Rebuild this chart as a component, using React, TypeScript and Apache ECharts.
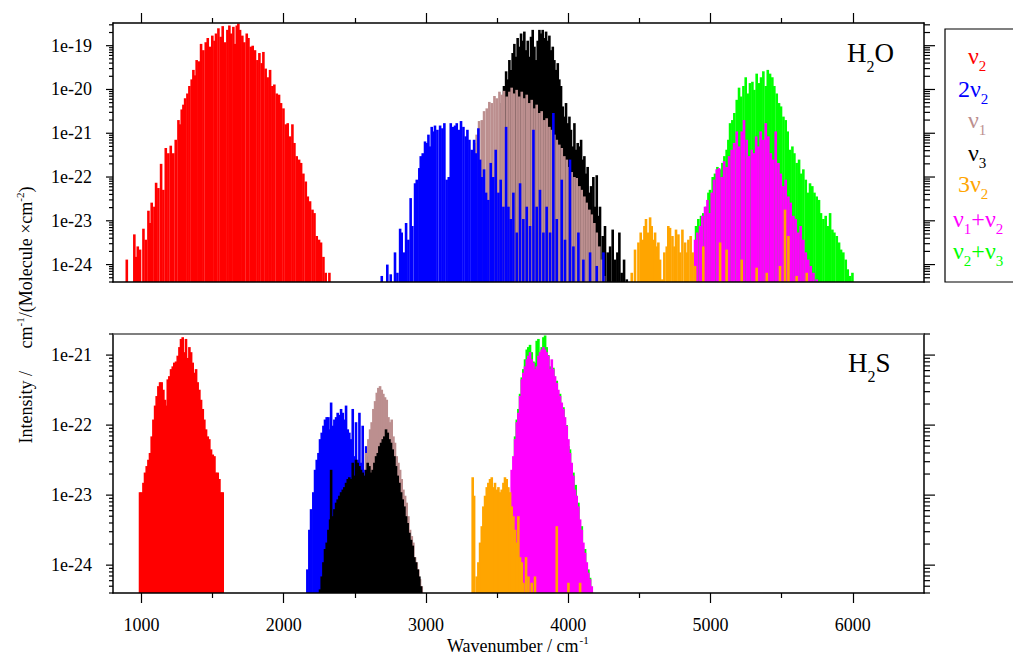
import { useEffect, useRef } from 'react';
import * as echarts from 'echarts';

type Stick = [number, number];

// Stick spectra: [wavenumber / cm-1, intensity / cm-1/(molecule cm-2)]

// ---------- H2O ----------
const h2oNu2: Stick[] = [
  [897, 1.3e-24], [950, 4.9e-24], [960, 1.5e-24], [974, 2.6e-24], [990, 2.2e-24], [1014, 6.6e-24], [1030, 3.7e-24],
  [1049, 1.7e-23], [1060, 8.9e-24], [1072, 2.6e-23], [1091, 2.1e-23], [1103, 7.4e-23], [1119, 5.6e-23], [1138, 2.0e-22],
  [1154, 5.1e-23], [1171, 4.6e-22], [1189, 3.5e-22], [1206, 5.2e-22], [1224, 3.5e-22], [1241, 7.1e-22], [1260, 2.0e-21],
  [1271, 1.6e-21], [1283, 3.5e-21], [1295, 4.5e-21], [1307, 6.3e-21], [1323, 8.1e-21], [1337, 1.2e-20], [1353, 1.7e-20],
  [1365, 2.8e-20], [1377, 2.1e-20], [1388, 4.7e-20], [1405, 4.4e-20], [1419, 1.1e-19], [1435, 7.9e-20], [1452, 1.2e-19],
  [1466, 1.5e-19], [1482, 9.5e-20], [1498, 1.7e-19], [1513, 1.3e-19], [1524, 1.9e-19], [1541, 2.5e-19], [1557, 1.6e-19],
  [1571, 2.8e-19], [1588, 1.2e-19], [1604, 2.3e-19], [1618, 2.9e-19], [1630, 1.9e-19], [1646, 2.7e-19], [1658, 1.1e-19],
  [1670, 2.9e-19], [1681, 3.2e-19], [1693, 2.3e-19], [1709, 1.7e-19], [1723, 1.2e-19], [1740, 1.9e-19], [1752, 1.5e-19],
  [1768, 9.5e-20], [1782, 1.0e-19], [1798, 7.9e-20], [1815, 4.7e-20], [1829, 6.8e-20], [1845, 4.0e-20], [1857, 7.2e-20],
  [1873, 3.0e-20], [1887, 1.9e-20], [1904, 2.8e-20], [1920, 1.2e-20], [1934, 1.3e-20], [1951, 8.1e-21], [1967, 7.6e-21],
  [1981, 4.9e-21], [1998, 3.7e-21], [2014, 1.6e-21], [2028, 1.7e-21], [2045, 8.5e-22], [2061, 1.6e-21], [2075, 6.0e-22],
  [2091, 3.0e-22], [2108, 2.5e-22], [2122, 2.1e-22], [2138, 1.2e-22], [2155, 7.9e-23], [2169, 3.6e-23], [2185, 2.8e-23],
  [2202, 1.8e-23], [2216, 1.5e-23], [2232, 4.5e-24], [2248, 3.7e-24], [2262, 3.2e-24], [2279, 1.5e-24], [2295, 6.5e-25],
  [2321, 6.5e-25],
];

const h2oTwoNu2: Stick[] = [
  [2689, 5.5e-25], [2728, 1.0e-24], [2752, 6.0e-25], [2782, 1.9e-24], [2799, 6.5e-25], [2818, 6.6e-24], [2829, 5.4e-24],
  [2846, 1.9e-24], [2860, 8.9e-24], [2876, 3.7e-24], [2892, 3.3e-23], [2904, 7.6e-24], [2923, 7.2e-23], [2935, 8.7e-23],
  [2953, 1.6e-22], [2963, 3.0e-22], [2977, 3.5e-22], [2993, 6.5e-22], [3005, 6.0e-22], [3017, 9.3e-22], [3028, 5.0e-22],
  [3040, 1.4e-21], [3052, 1.1e-21], [3063, 1.5e-21], [3080, 1.2e-21], [3099, 1.5e-21], [3115, 1.3e-21], [3129, 1.7e-21],
  [3145, 8.7e-23], [3160, 1.0e-22], [3174, 1.7e-21], [3188, 1.4e-21], [3204, 1.5e-21], [3216, 1.7e-21], [3232, 1.2e-21],
  [3246, 1.9e-21], [3263, 1.4e-21], [3279, 8.5e-22], [3291, 1.2e-21], [3305, 7.1e-22], [3321, 4.2e-22], [3338, 7.1e-22],
  [3352, 3.5e-22], [3368, 1.3e-21], [3380, 2.5e-22], [3391, 1.0e-22], [3408, 1.5e-22], [3422, 4.4e-23], [3438, 3.0e-23],
  [3455, 2.1e-22], [3473, 1.0e-22], [3490, 4.2e-22], [3509, 4.4e-23], [3525, 8.7e-23], [3544, 2.1e-23], [3563, 1.4e-21],
  [3579, 2.1e-23], [3595, 1.1e-23], [3614, 4.4e-23], [3638, 5.4e-24], [3661, 7.2e-23], [3684, 1.1e-23], [3708, 2.1e-23],
  [3731, 7.6e-24], [3755, 1.2e-21], [3778, 2.1e-23], [3801, 5.1e-23], [3825, 5.4e-24], [3848, 2.1e-23], [3872, 5.4e-24],
  [3895, 2.9e-21], [3919, 1.1e-23], [3954, 8.7e-23], [3977, 3.7e-24], [4012, 2.5e-22], [4036, 2.6e-24], [4071, 5.4e-24],
  [4106, 1.3e-24], [4153, 1.9e-24], [4200, 9.3e-25], [4247, 1.9e-24],
];

const h2oNu1: Stick[] = [
  [3340, 6.0e-22], [3356, 9.3e-22], [3373, 1.9e-21], [3392, 2.0e-21], [3408, 3.2e-21], [3427, 3.7e-21], [3445, 5.2e-21],
  [3462, 4.9e-21], [3481, 7.1e-21], [3497, 6.3e-21], [3516, 8.9e-21], [3532, 7.6e-21], [3548, 9.3e-21], [3567, 6.9e-21],
  [3586, 8.9e-21], [3602, 1.1e-20], [3619, 8.1e-21], [3637, 9.8e-21], [3656, 6.9e-21], [3673, 8.9e-21], [3691, 6.3e-21],
  [3708, 7.6e-21], [3726, 4.9e-21], [3743, 5.8e-21], [3762, 3.7e-21], [3778, 4.5e-21], [3797, 2.9e-21], [3813, 3.2e-21],
  [3832, 2.0e-21], [3848, 2.2e-21], [3867, 1.4e-21], [3883, 1.2e-21], [3902, 9.3e-22], [3919, 7.1e-22], [3937, 5.5e-22],
  [3954, 4.6e-22], [3972, 3.0e-22], [3989, 2.5e-22], [4008, 1.7e-22], [4024, 1.3e-22], [4043, 1.0e-22], [4059, 9.5e-23],
  [4078, 6.2e-23], [4094, 5.1e-23], [4113, 3.6e-23], [4129, 2.6e-23], [4148, 1.8e-23], [4165, 1.4e-23], [4183, 8.9e-24],
  [4200, 5.4e-24], [4218, 2.6e-24], [4235, 1.3e-24], [4251, 5.5e-25],
];

const h2oNu3: Stick[] = [
  [3532, 4.9e-21], [3548, 1.2e-20], [3563, 2.6e-20], [3574, 1.7e-20], [3586, 4.7e-20], [3598, 2.8e-20], [3609, 6.8e-20],
  [3621, 1.1e-19], [3633, 5.6e-20], [3644, 1.5e-19], [3656, 9.5e-20], [3668, 1.9e-19], [3680, 1.3e-19], [3691, 2.1e-19],
  [3703, 7.9e-20], [3715, 1.3e-19], [3727, 5.6e-20], [3738, 1.6e-19], [3750, 2.3e-19], [3762, 9.5e-20], [3773, 4.7e-20],
  [3785, 1.3e-19], [3797, 2.3e-19], [3808, 1.9e-19], [3820, 2.3e-19], [3832, 1.5e-19], [3844, 2.1e-19], [3855, 1.3e-19],
  [3867, 1.7e-19], [3879, 7.9e-20], [3891, 9.5e-20], [3902, 4.7e-20], [3914, 2.8e-20], [3926, 4.0e-20], [3937, 1.7e-20],
  [3949, 1.2e-20], [3961, 4.1e-21], [3972, 2.4e-21], [3984, 4.9e-21], [3996, 1.7e-21], [4008, 2.4e-21], [4019, 1.2e-21],
  [4031, 5.0e-22], [4043, 1.7e-21], [4055, 4.2e-22], [4066, 6.0e-22], [4078, 5.0e-22], [4090, 7.1e-22], [4101, 2.5e-22],
  [4113, 3.0e-22], [4125, 1.2e-22], [4136, 1.7e-22], [4148, 4.4e-23], [4160, 6.2e-23], [4176, 1.0e-22], [4188, 2.1e-23],
  [4200, 1.1e-22], [4211, 1.3e-23], [4223, 2.1e-23], [4242, 4.5e-24], [4258, 7.6e-24], [4277, 1.9e-24], [4294, 2.6e-24],
  [4312, 6.3e-24], [4329, 1.3e-24], [4345, 1.9e-24], [4359, 5.4e-24], [4375, 6.5e-25], [4392, 1.3e-24], [4411, 4.6e-25],
];

const h2oThreeNu2: Stick[] = [
  [4446, 6.5e-25], [4469, 2.2e-24], [4493, 3.2e-24], [4509, 5.4e-24], [4523, 3.7e-24], [4535, 7.6e-24], [4546, 1.1e-23],
  [4558, 5.4e-24], [4575, 1.2e-23], [4586, 7.6e-24], [4598, 3.7e-24], [4610, 5.4e-24], [4621, 2.6e-24], [4633, 3.2e-24],
  [4645, 1.3e-24], [4661, 4.6e-25], [4675, 1.9e-24], [4692, 2.6e-24], [4703, 7.6e-24], [4715, 6.9e-24], [4732, 4.5e-24],
  [4746, 2.6e-24], [4757, 6.3e-24], [4774, 4.9e-24], [4785, 1.9e-24], [4802, 6.3e-24], [4821, 3.2e-24], [4832, 1.9e-24],
  [4844, 3.7e-24], [4860, 4.5e-24], [4874, 1.9e-24], [4891, 9.3e-25], [4949, 2.6e-24], [5067, 3.2e-24], [5113, 2.2e-24],
  [5219, 1.3e-24], [5324, 8.5e-25], [5395, 6.5e-25], [5488, 9.3e-25], [5523, 1.8e-23], [5547, 4.5e-24], [5605, 5.5e-25],
  [5676, 6.5e-25],
];

const h2oNu1Nu2: Stick[] = [
  [4891, 3.7e-24], [4907, 5.4e-24], [4926, 7.6e-24], [4942, 1.3e-23], [4961, 2.1e-23], [4978, 3.0e-23], [4992, 1.5e-23],
  [5008, 4.4e-23], [5024, 8.7e-23], [5043, 1.5e-22], [5060, 1.6e-22], [5078, 1.0e-22], [5095, 2.3e-22], [5113, 1.7e-22],
  [5130, 3.0e-22], [5148, 4.2e-22], [5165, 6.0e-22], [5184, 1.1e-21], [5200, 5.0e-22], [5219, 1.1e-21], [5235, 2.0e-21],
  [5254, 7.1e-22], [5270, 3.0e-22], [5289, 4.2e-22], [5305, 3.5e-22], [5320, 8.5e-22], [5336, 5.0e-22], [5352, 1.1e-21],
  [5371, 7.1e-22], [5388, 1.7e-21], [5406, 8.5e-22], [5423, 3.5e-22], [5441, 2.5e-22], [5458, 1.1e-21], [5477, 2.1e-22],
  [5493, 1.2e-22], [5512, 6.2e-23], [5528, 8.7e-23], [5547, 3.6e-23], [5563, 2.6e-23], [5582, 1.3e-23], [5598, 1.1e-23],
  [5617, 5.4e-24], [5633, 7.6e-24], [5652, 3.7e-24], [5669, 1.9e-24], [5687, 1.3e-24], [5704, 9.3e-25], [5723, 6.5e-25],
  [5746, 4.6e-25],
];

const h2oNu2Nu3: Stick[] = [
  [4898, 7.6e-24], [4914, 1.1e-23], [4933, 1.3e-23], [4949, 1.5e-23], [4968, 2.1e-23], [4985, 4.4e-23], [4996, 5.1e-23],
  [5015, 1.0e-22], [5031, 1.2e-22], [5048, 1.7e-22], [5066, 1.5e-22], [5083, 2.1e-22], [5097, 3.0e-22], [5113, 4.2e-22],
  [5125, 7.1e-22], [5137, 1.7e-21], [5153, 2.0e-21], [5167, 2.9e-21], [5184, 5.8e-21], [5200, 1.1e-20], [5214, 6.9e-21],
  [5231, 1.2e-20], [5247, 1.9e-20], [5261, 8.1e-21], [5277, 1.4e-20], [5294, 1.5e-20], [5308, 9.8e-21], [5324, 2.3e-20],
  [5341, 1.4e-20], [5355, 1.9e-20], [5371, 2.6e-20], [5388, 1.2e-20], [5402, 2.8e-20], [5418, 2.3e-20], [5434, 1.9e-20],
  [5448, 1.2e-20], [5465, 8.1e-21], [5481, 4.9e-21], [5495, 4.1e-21], [5512, 2.4e-21], [5528, 2.0e-21], [5542, 1.1e-21],
  [5559, 4.2e-22], [5575, 5.0e-22], [5589, 3.5e-22], [5605, 2.1e-22], [5622, 2.5e-22], [5636, 1.2e-22], [5652, 1.5e-22],
  [5669, 8.7e-23], [5683, 4.4e-23], [5699, 7.2e-23], [5715, 6.2e-23], [5730, 4.4e-23], [5746, 3.6e-23], [5762, 3.0e-23],
  [5776, 1.5e-23], [5793, 1.1e-23], [5809, 1.3e-23], [5823, 7.6e-24], [5840, 1.5e-23], [5856, 6.3e-24], [5870, 5.4e-24],
  [5887, 4.5e-24], [5903, 3.2e-24], [5917, 2.2e-24], [5933, 1.9e-24], [5950, 1.3e-24], [5964, 7.8e-25], [5980, 5.5e-25],
  [5997, 6.5e-25],
];

// ---------- H2S ----------
const h2sNu2: Stick[] = [
  [990, 1.1e-23], [1002, 1.1e-23], [1014, 1.5e-23], [1025, 2.1e-23], [1037, 2.6e-23], [1049, 3.2e-23], [1060, 4.0e-23],
  [1072, 6.9e-23], [1084, 1.2e-22], [1096, 1.9e-22], [1107, 2.6e-22], [1119, 3.6e-22], [1131, 4.1e-22], [1142, 4.1e-22],
  [1154, 3.2e-22], [1166, 2.3e-22], [1178, 1.9e-22], [1185, 4.5e-22], [1196, 5.0e-22], [1208, 6.3e-22], [1220, 6.9e-22],
  [1231, 7.8e-22], [1243, 8.1e-22], [1255, 9.8e-22], [1267, 1.3e-21], [1278, 1.7e-21], [1290, 1.8e-21], [1302, 1.1e-21],
  [1313, 1.7e-21], [1325, 9.1e-22], [1337, 1.3e-21], [1349, 1.1e-21], [1360, 7.8e-22], [1372, 5.6e-22], [1384, 6.3e-22],
  [1395, 4.1e-22], [1407, 3.2e-22], [1419, 2.3e-22], [1431, 1.7e-22], [1442, 1.2e-22], [1454, 8.7e-23], [1466, 6.9e-23],
  [1477, 6.3e-23], [1489, 4.5e-23], [1501, 3.8e-23], [1513, 3.6e-23], [1524, 2.1e-23], [1536, 2.1e-23], [1548, 1.7e-23],
  [1560, 1.1e-23], [1571, 1.1e-23],
];

const h2sTwoNu2: Stick[] = [
  [2166, 8.7e-25], [2180, 3.2e-24], [2192, 6.3e-24], [2208, 1.1e-23], [2220, 2.3e-23], [2232, 3.2e-23], [2244, 4.0e-23],
  [2255, 6.3e-23], [2267, 7.8e-23], [2279, 9.8e-23], [2290, 1.2e-22], [2302, 1.3e-22], [2314, 1.3e-22], [2321, 8.7e-23],
  [2333, 2.1e-22], [2344, 9.8e-23], [2356, 1.2e-22], [2368, 1.3e-22], [2379, 1.5e-22], [2391, 1.4e-22], [2403, 1.7e-22],
  [2415, 1.5e-22], [2426, 1.2e-22], [2438, 1.9e-22], [2450, 8.7e-23], [2461, 7.8e-23], [2473, 6.3e-23], [2485, 1.7e-22],
  [2497, 3.6e-23], [2508, 1.1e-22], [2520, 3.2e-23], [2532, 1.5e-22], [2543, 2.9e-23], [2555, 9.8e-23], [2567, 2.3e-23],
  [2579, 5.0e-23], [2590, 3.6e-23],
];

const h2sNu1: Stick[] = [
  [2579, 4.0e-23], [2595, 6.3e-23], [2607, 8.7e-23], [2618, 1.1e-22], [2630, 1.7e-22], [2642, 2.2e-22], [2654, 2.9e-22],
  [2665, 3.4e-22], [2677, 3.6e-22], [2689, 3.2e-22], [2700, 2.8e-22], [2712, 2.5e-22], [2724, 2.3e-22], [2736, 1.3e-22],
  [2747, 1.1e-22], [2759, 1.2e-22], [2771, 6.9e-23], [2782, 5.6e-23], [2794, 3.6e-23], [2806, 2.9e-23], [2818, 2.3e-23],
  [2829, 1.7e-23], [2841, 1.2e-23], [2853, 9.8e-24], [2864, 7.8e-24], [2876, 5.0e-24], [2888, 3.2e-24], [2900, 2.6e-24],
  [2911, 2.1e-24], [2923, 1.3e-24], [2935, 1.1e-24], [2946, 8.7e-25], [2958, 6.3e-25], [2970, 5.0e-25],
];

const h2sNu3: Stick[] = [
  [2255, 4.5e-25], [2267, 6.9e-25], [2279, 1.1e-24], [2290, 1.7e-24], [2302, 2.1e-24], [2314, 3.2e-24], [2326, 4.5e-24],
  [2333, 2.3e-23], [2344, 5.0e-24], [2356, 6.3e-24], [2368, 7.8e-24], [2379, 8.7e-24], [2391, 9.8e-24], [2403, 1.1e-23],
  [2415, 1.2e-23], [2426, 1.3e-23], [2438, 1.5e-23], [2450, 1.7e-23], [2461, 1.8e-23], [2473, 1.7e-23], [2485, 2.9e-23],
  [2497, 1.9e-23], [2508, 3.2e-23], [2520, 2.9e-23], [2532, 2.6e-23], [2543, 2.3e-23], [2555, 2.1e-23], [2567, 1.9e-23],
  [2579, 2.3e-23], [2590, 2.9e-23], [2602, 2.6e-23], [2614, 2.1e-23], [2625, 2.3e-23], [2637, 2.9e-23], [2649, 3.6e-23],
  [2661, 4.0e-23], [2672, 5.0e-23], [2684, 5.6e-23], [2696, 6.3e-23], [2707, 6.9e-23], [2719, 8.7e-23], [2731, 7.8e-23],
  [2743, 6.3e-23], [2754, 5.6e-23], [2766, 4.5e-23], [2778, 3.6e-23], [2789, 2.6e-23], [2801, 1.9e-23], [2813, 1.5e-23],
  [2825, 1.1e-23], [2836, 8.7e-24], [2848, 6.9e-24], [2860, 5.0e-24], [2871, 4.0e-24], [2883, 2.9e-24], [2895, 2.3e-24],
  [2907, 1.9e-24], [2918, 1.3e-24], [2930, 1.1e-24], [2942, 8.7e-25], [2953, 6.9e-25], [2965, 5.0e-25],
];

const h2sThreeNu2: Stick[] = [
  [3328, 1.8e-23], [3338, 9.8e-24], [3356, 6.9e-25], [3368, 1.1e-24], [3380, 2.1e-24], [3392, 3.6e-24], [3403, 6.9e-24],
  [3415, 9.8e-24], [3427, 1.3e-23], [3438, 1.5e-23], [3450, 1.7e-23], [3462, 1.8e-23], [3474, 1.3e-23], [3485, 1.5e-23],
  [3497, 1.2e-23], [3509, 1.3e-23], [3520, 1.1e-23], [3532, 1.2e-23], [3544, 1.5e-23], [3555, 1.8e-23], [3567, 1.7e-23],
  [3579, 1.3e-23], [3591, 1.1e-23], [3602, 6.9e-24], [3614, 5.0e-24], [3626, 3.2e-24], [3638, 2.1e-24], [3649, 5.0e-24],
  [3661, 1.3e-24], [3673, 1.1e-24], [3684, 5.6e-25], [3703, 1.3e-24], [3720, 6.9e-25], [3743, 5.6e-25], [3766, 6.9e-25],
  [3919, 3.6e-24], [4001, 5.6e-25], [4083, 5.6e-25],
];

const h2sNu1Nu2: Stick[] = [
  [3602, 2.3e-23], [3614, 3.6e-23], [3626, 6.3e-23], [3638, 1.1e-22], [3649, 1.5e-22], [3661, 2.6e-22], [3673, 4.5e-22],
  [3684, 5.6e-22], [3696, 6.9e-22], [3708, 8.7e-22], [3719, 9.8e-22], [3731, 1.1e-21], [3743, 8.7e-22], [3755, 7.8e-22],
  [3766, 6.3e-22], [3778, 6.9e-22], [3790, 9.8e-22], [3801, 1.1e-21], [3813, 1.2e-21], [3825, 1.3e-21], [3837, 1.2e-21],
  [3848, 1.1e-21], [3860, 9.8e-22], [3872, 6.3e-22], [3884, 8.7e-22], [3895, 6.3e-22], [3907, 5.0e-22], [3919, 4.0e-22],
  [3930, 3.2e-22], [3942, 2.6e-22], [3954, 2.1e-22], [3966, 1.7e-22], [3977, 1.3e-22], [3989, 9.8e-23], [4001, 6.3e-23],
  [4012, 4.0e-23], [4024, 2.9e-23], [4036, 1.9e-23], [4048, 1.2e-23], [4059, 9.8e-24], [4071, 6.9e-24], [4083, 4.5e-24],
  [4095, 3.2e-24], [4106, 2.1e-24], [4118, 1.5e-24], [4130, 1.1e-24], [4141, 7.8e-25], [4153, 6.3e-25], [4165, 5.0e-25],
];

const h2sNu2Nu3: Stick[] = [
  [3626, 6.9e-23], [3638, 1.2e-22], [3649, 1.7e-22], [3661, 2.8e-22], [3673, 4.8e-22], [3684, 6.3e-22], [3696, 8.7e-22],
  [3708, 1.2e-21], [3719, 1.3e-21], [3731, 1.4e-21], [3743, 1.1e-21], [3755, 8.1e-22], [3766, 7.8e-22], [3778, 1.6e-21],
  [3790, 1.7e-21], [3801, 1.1e-21], [3813, 1.3e-21], [3825, 1.8e-21], [3837, 1.9e-21], [3848, 1.3e-21], [3860, 1.0e-21],
  [3872, 6.9e-22], [3895, 6.6e-22], [3919, 4.3e-22], [3942, 2.8e-22], [3966, 1.8e-22], [3989, 1.0e-22], [4001, 5.0e-23],
  [4012, 4.5e-23], [4036, 2.1e-23], [4052, 1.4e-23], [4071, 7.8e-24], [4095, 3.6e-24], [4118, 1.7e-24], [4141, 8.7e-25],
  [4153, 6.6e-25],
];

// ---------- axes ----------
const WN_RANGE = [800, 6500];
const X_MAJOR = [1000, 2000, 3000, 4000, 5000, 6000];
const X_MINOR = [1500, 2500, 3500, 4500, 5500];
const H2O_RANGE = [4e-25, 3.3e-19];
const H2S_RANGE = [4e-25, 2e-21];
const H2O_DECADES = [1e-24, 1e-23, 1e-22, 1e-21, 1e-20, 1e-19];
const H2S_DECADES = [1e-24, 1e-23, 1e-22, 1e-21];
const MANTISSAS = [2, 3, 4, 5, 6, 7, 8, 9];

const COLORS = {
  nu2: '#ff0000',
  twoNu2: '#0000ff',
  nu1: '#bc8f8f',
  nu3: '#000000',
  threeNu2: '#ffa500',
  nu1nu2: '#ff00ff',
  nu2nu3: '#00ff00',
};

// legend entries: rich-text label, colour
const LEGEND = [
  { text: '{m|ν}{s|2}', color: COLORS.nu2 },
  { text: '{m|2ν}{s|2}', color: COLORS.twoNu2 },
  { text: '{m|ν}{s|1}', color: COLORS.nu1 },
  { text: '{m|ν}{s|3}', color: COLORS.nu3 },
  { text: '{m|3ν}{s|2}', color: COLORS.threeNu2 },
  { text: '{m|ν}{s|1}{m|+ν}{s|2}', color: COLORS.nu1nu2 },
  { text: '{m|ν}{s|2}{m|+ν}{s|3}', color: COLORS.nu2nu3 },
];
const LEGEND_POS = [
  [968, 55.7], [958, 88.5], [968, 119.5], [968, 152.5], [958, 183.5], [953, 218.5], [953, 250.5],
];

const X_TITLE = 'Wavenumber / cm';
const X_TITLE_SUP = '-1';
const Y_TITLE = '{m|Intensity /     cm}{p|-1}{m|/(Molecule ×cm}{p|-2}{m|)}';

// drawing order within each panel
const H2O_BANDS: [Stick[], string][] = [
  [h2oNu2, COLORS.nu2], [h2oNu3, COLORS.nu3], [h2oNu1, COLORS.nu1], [h2oTwoNu2, COLORS.twoNu2],
  [h2oNu2Nu3, COLORS.nu2nu3], [h2oNu1Nu2, COLORS.nu1nu2], [h2oThreeNu2, COLORS.threeNu2],
];
const H2S_BANDS: [Stick[], string][] = [
  [h2sNu2, COLORS.nu2], [h2sTwoNu2, COLORS.twoNu2], [h2sNu1, COLORS.nu1], [h2sNu3, COLORS.nu3],
  [h2sNu2Nu3, COLORS.nu2nu3], [h2sNu1Nu2, COLORS.nu1nu2], [h2sThreeNu2, COLORS.threeNu2],
];

const FONT = "'Liberation Serif', 'Times New Roman', serif";
const STICK_W = 2.6;

function minorLogTicks(range: number[]) {
  const out: number[] = [];
  const e0 = Math.floor(Math.log10(range[0]));
  const e1 = Math.ceil(Math.log10(range[1]));
  for (let e = e0; e <= e1; e++) {
    for (const m of MANTISSAS) {
      const v = Number(`${m}e${e}`);
      if (v >= range[0] && v <= range[1]) out.push(v);
    }
  }
  return out;
}

function textWidth(text: string, size: number) {
  const ctx = document.createElement('canvas').getContext('2d');
  if (!ctx) return text.length * size * 0.45;
  ctx.font = `${size}px ${FONT}`;
  return ctx.measureText(text).width;
}

const expLabel = (v: number) => `1e${Math.round(Math.log10(v))}`;

function buildOption() {
  const labelText = { fontFamily: FONT, fontSize: 18, color: '#000' };
  const frame = { color: '#000', width: 1.5 };
  const tickLine = { color: '#000', width: 1.2 };

  const baseX = (grid: number, position: string) => ({
    type: 'value', gridIndex: grid, position, min: WN_RANGE[0], max: WN_RANGE[1], z: 5,
    splitLine: { show: false }, axisLabel: { show: false }, axisTick: { show: false },
    axisLine: { show: false, onZero: false },
  });
  const baseY = (grid: number, position: string, range: number[]) => ({
    type: 'log', logBase: 10, gridIndex: grid, position, min: range[0], max: range[1], z: 5,
    splitLine: { show: false }, axisLabel: { show: false }, axisTick: { show: false },
    axisLine: { show: true, onZero: false, lineStyle: frame },
  });

  const xAxis = [
    // H2O panel: 0 bottom edge, 1 top major ticks, 2 top minor ticks
    { ...baseX(0, 'bottom'), axisLine: { show: true, onZero: false, lineStyle: frame } },
    { ...baseX(0, 'top'), axisLine: { show: true, onZero: false, lineStyle: frame },
      axisTick: { show: true, inside: false, length: 10, customValues: X_MAJOR, lineStyle: tickLine } },
    { ...baseX(0, 'top'), axisTick: { show: true, inside: false, length: 5, customValues: X_MINOR, lineStyle: tickLine } },
    // H2S panel: 3 bottom major ticks + labels, 4 bottom minor ticks, 5 top edge
    { ...baseX(1, 'bottom'), axisLine: { show: true, onZero: false, lineStyle: frame },
      axisTick: { show: true, inside: false, length: 10, customValues: X_MAJOR, lineStyle: tickLine },
      axisLabel: { show: true, customValues: X_MAJOR, formatter: (v: number) => String(v), margin: 23, ...labelText } },
    { ...baseX(1, 'bottom'), axisTick: { show: true, inside: false, length: 5, customValues: X_MINOR, lineStyle: tickLine } },
    { ...baseX(1, 'top'), axisLine: { show: true, onZero: false, lineStyle: { color: '#555', width: 1.5 } } },
  ];

  // 0 / 1: H2O left & right edges, 2 / 3: H2S left & right edges
  const yAxis = [
    baseY(0, 'left', H2O_RANGE), baseY(0, 'right', H2O_RANGE),
    baseY(1, 'left', H2S_RANGE), baseY(1, 'right', H2S_RANGE),
  ];

  const stickSeries = (data: Stick[], color: string, xIdx: number, yIdx: number) => ({
    type: 'custom',
    xAxisIndex: xIdx,
    yAxisIndex: yIdx,
    data,
    encode: { x: 0, y: 1 },
    clip: true,
    silent: true,
    renderItem: (params: any, api: any) => {
      const tip = api.coord([api.value(0), api.value(1)]);
      const cs = params.coordSys;
      const base = cs.y + cs.height;
      return {
        type: 'rect',
        shape: { x: tip[0] - STICK_W / 2, y: tip[1], width: STICK_W, height: base - tip[1] },
        style: { fill: color },
      };
    },
  });

  // log-axis tick marks (both edges) and decade labels, placed through the y scale
  const logTickSeries = (xIdx: number, yIdx: number, decades: number[], range: number[]) => ({
    type: 'custom',
    xAxisIndex: xIdx,
    yAxisIndex: yIdx,
    clip: false,
    silent: true,
    z: 6,
    data: [
      ...decades.map((v) => [WN_RANGE[0], v, 1]),
      ...minorLogTicks(range).map((v) => [WN_RANGE[0], v, 0]),
    ],
    encode: { x: 0, y: 1 },
    renderItem: (params: any, api: any) => {
      const major = api.value(2) === 1;
      const y = api.coord([api.value(0), api.value(1)])[1];
      const cs = params.coordSys;
      const left = major ? 7 : 4;
      const right = major ? 11 : 6;
      const stroke = { stroke: '#000', lineWidth: 1.2 };
      const children: any[] = [
        { type: 'line', shape: { x1: cs.x - left, y1: y, x2: cs.x, y2: y }, style: stroke },
        { type: 'line', shape: { x1: cs.x + cs.width, y1: y, x2: cs.x + cs.width + right, y2: y }, style: stroke },
      ];
      if (major) {
        children.push({
          type: 'text', x: cs.x - 21, y,
          style: { text: expLabel(api.value(1)), align: 'right', verticalAlign: 'middle',
            fontSize: 18, fontFamily: FONT, fill: '#000' },
        });
      }
      return { type: 'group', children };
    },
  });

  const series = [
    ...H2O_BANDS.map(([d, c]) => stickSeries(d, c, 0, 0)),
    ...H2S_BANDS.map(([d, c]) => stickSeries(d, c, 3, 2)),
    logTickSeries(0, 0, H2O_DECADES, H2O_RANGE),
    logTickSeries(3, 2, H2S_DECADES, H2S_RANGE),
  ];

  const molRich = {
    m: { fontFamily: FONT, fontSize: 27 },
    s: { fontFamily: FONT, fontSize: 16, padding: [28, 0, 0, 0] },
  };
  const legRich = {
    m: { fontFamily: FONT, fontSize: 24 },
    s: { fontFamily: FONT, fontSize: 15, padding: [20, 0, 0, 0] },
  };
  const titleRich = {
    m: { fontFamily: FONT, fontSize: 18 },
    p: { fontFamily: FONT, fontSize: 11, padding: [0, 0, 12, 0] },
  };

  const xTitleLeft = 447;
  const xTitleW = textWidth(X_TITLE, 18);

  const graphic: any[] = [
    { type: 'rect', x: 945, y: 29, shape: { x: 0, y: 0, width: 80, height: 253 },
      style: { fill: 'none', stroke: '#000', lineWidth: 1.2 } },
    ...LEGEND.map((item, i) => ({
      type: 'text', x: LEGEND_POS[i][0], y: LEGEND_POS[i][1],
      style: { text: item.text, rich: legRich, fill: item.color, align: 'left', verticalAlign: 'middle' },
    })),
    { type: 'text', x: 847, y: 52.6,
      style: { text: '{m|H}{s|2}{m|O}', rich: molRich, fill: '#000', align: 'left', verticalAlign: 'middle' } },
    { type: 'text', x: 848, y: 362.6,
      style: { text: '{m|H}{s|2}{m|S}', rich: molRich, fill: '#000', align: 'left', verticalAlign: 'middle' } },
    { type: 'text', x: xTitleLeft, y: 646,
      style: { text: X_TITLE, fontSize: 18, fontFamily: FONT, fill: '#000', align: 'left', verticalAlign: 'middle' } },
    { type: 'text', x: xTitleLeft + xTitleW + 1, y: 640,
      style: { text: X_TITLE_SUP, fontSize: 11, fontFamily: FONT, fill: '#000', align: 'left', verticalAlign: 'middle' } },
    { type: 'text', x: 26, y: 315, rotation: Math.PI / 2,
      style: { text: Y_TITLE, rich: titleRich, fill: '#000', align: 'center', verticalAlign: 'middle' } },
  ];

  return {
    animation: false,
    backgroundColor: '#fff',
    grid: [
      { left: 113, top: 23, width: 811, height: 259, outerBoundsMode: 'none' },
      { left: 113, top: 334, width: 811, height: 259, outerBoundsMode: 'none' },
    ],
    xAxis,
    yAxis,
    series,
    graphic,
  };
}

export default function App() {
  const ref = useRef<HTMLDivElement>(null);
  useEffect(() => {
    if (!ref.current) return;
    const chart = echarts.init(ref.current, undefined, { renderer: 'svg' });
    chart.setOption(buildOption() as any);
    return () => chart.dispose();
  }, []);
  return (
    <div
      ref={ref}
      style={{ position: 'absolute', left: 0, top: 0, width: 1013, height: 656, background: '#fff' }}
    />
  );
}
